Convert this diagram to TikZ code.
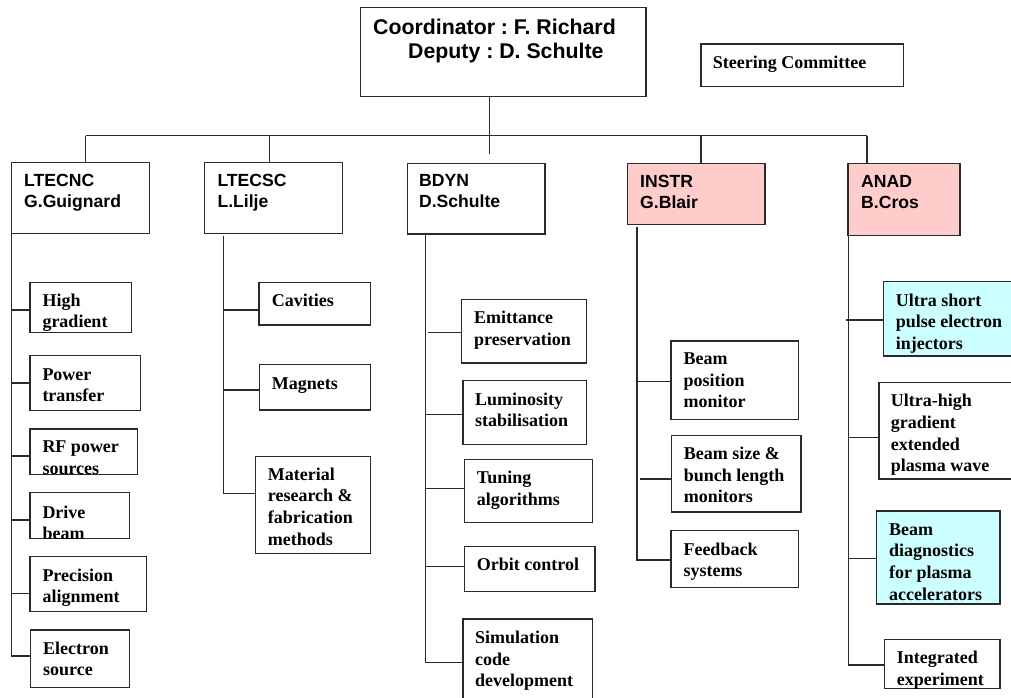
\documentclass[tikz,border=0pt]{standalone}
\usepackage{fontspec}
\setmainfont{Liberation Serif}
\setsansfont{Liberation Sans}
\frenchspacing
\definecolor{pinkfill}{HTML}{FFCCCC}
\definecolor{cyanfill}{HTML}{CCFFFF}
\definecolor{linecol}{HTML}{2A2A2A}
\newcommand\mkbox[6][]{\node[box,#1,minimum width={(#5-#3)*1pt},minimum height={(#6-#4)*1pt}] (#2) at (#3,#4) {};}
\tikzset{
  box/.style={draw=linecol, line width=1.1pt, anchor=north west, inner sep=0pt, outer sep=0pt},
  conn/.style={draw=linecol, line width=1.1pt},
  item/.style={anchor=base west, inner sep=0pt, align=left, font=\bfseries\fontsize{18}{21.7}\selectfont},
  head/.style={anchor=base west, inner sep=0pt, align=left, font=\sffamily\bfseries\fontsize{17.6}{21.5}\selectfont},
  toptext/.style={anchor=base west, inner sep=0pt, font=\sffamily\bfseries\fontsize{21.3}{24}\selectfont},
}
\begin{document}
\begin{tikzpicture}[x=1pt,y=-1pt]
\useasboundingbox (0,0) rectangle (1011,698);
\clip (0,0) rectangle (1011,698);
\fill[white] (0,0) rectangle (1011,698);

% top
\mkbox{coord}{360.7}{7.3}{646}{96.7}
\node[toptext] (tcoord1) at (373,34.3) {Coordinator : F. Richard};
\node[toptext] (tcoord2) at (408,58.3) {Deputy : D. Schulte};
\mkbox{steer}{701}{44}{903.3}{86.3}
\node[item] (tsteer) at (712.7,68.3) {Steering Committee};

% heads (anchor = baseline of last line)
\mkbox{ltecnc}{11.7}{162.7}{149.3}{233.3}
\mkbox{ltecsc}{204.3}{162.7}{342.3}{233.3}
\mkbox{bdyn}{407.2}{163.3}{545}{234}
\mkbox[fill=pinkfill]{instr}{627.7}{163.3}{765}{224.3}
\mkbox[fill=pinkfill]{anad}{848}{163.3}{960}{235.7}
\node[head] (tltecnc) at (24,207.8) {LTECNC\\G.Guignard};
\node[head] (tltecsc) at (217.3,207.8) {LTECSC\\L.Lilje};
\node[head] (tbdyn) at (418.9,207.8) {BDYN\\D.Schulte};
\node[head] (tinstr) at (640,208.8) {INSTR\\G.Blair};
\node[head] (tanad) at (861,208.8) {ANAD\\B.Cros};

% bus
\coordinate (busL) at (85.7,135.7);
\coordinate (busR) at (867,135.7);
\draw[conn] (busL) -- (busR);
\draw[conn] (busL) -- (busL |- ltecnc.north);
\draw[conn] ([xshift=-4pt]ltecsc.north) -- ++(0,-27);
\draw[conn] ([xshift=4.65pt]instr.north) -- ++(0,-27.6);
\draw[conn] (busR) -- (busR |- anad.north);
\draw[conn] ([xshift=-13.65pt]coord.south) -- ++(0,57.3);

% LTECNC column
\mkbox{hg}{30}{282.3}{131.3}{332.7}
\mkbox{pt}{30}{355.7}{140.3}{410.3}
\mkbox{rf}{30}{429}{137.3}{474.3}
\mkbox{db}{30}{492.7}{129.7}{538.3}
\mkbox{pa}{30}{556.7}{146.7}{611.7}
\mkbox{es}{30.7}{630}{129.3}{687.3}
\node[item] (thg) at (42.3,327.7) {High\\gradient};
\node[item] (tpt) at (42.3,401.7) {Power\\transfer};
\node[item] (trf) at (42.3,474.4) {RF power\\sources};
\begin{scope}
\clip (db.north west) rectangle (db.south east);
\node[item] (tdb) at (42.3,539.8) {Drive\\beam};
\end{scope}
\node[item] (tpa) at (42.3,602.7) {Precision\\alignment};
\node[item] (tes) at (43,675.7) {Electron\\source};
\draw[conn] (ltecnc.south west) |- ([yshift=2.65pt]es.west);
\draw[conn] ([yshift=-2.5pt]hg.west) -- ++(-18.3,0);
\draw[conn] (pt.west) -- ++(-18.3,0);
\draw[conn] ([yshift=-4.35pt]rf.west) -- ++(-18.3,0);
\draw[conn] ([yshift=-4.5pt]db.west) -- ++(-18.3,0);
\draw[conn] ([yshift=-9.1pt]pa.west) -- ++(-18.3,0);

% LTECSC column
\mkbox{cav}{259}{282.3}{370.3}{325}
\mkbox{mag}{259.3}{364.7}{370.3}{410}
\mkbox{mat}{255.7}{456.3}{370.3}{553.3}
\node[item] (tcav) at (271.7,306) {Cavities};
\node[item] (tmag) at (271.7,389) {Magnets};
\node[item] (tmat) at (267.7,545.1) {Material\\research \&\\fabrication\\methods};
\draw[conn] ([xshift=19pt,yshift=-2.7pt]ltecsc.south west) |- ([yshift=11.5pt]mat.west);
\draw[conn] ([yshift=-6.35pt]cav.west) -- ++(-35.7,0);
\draw[conn] ([yshift=-2.65pt]mag.west) -- ++(-36,0);

% BDYN column
\mkbox{emit}{461.7}{299.3}{586.7}{363}
\mkbox{lum}{463}{380.7}{586.3}{444.3}
\mkbox{tun}{464.3}{459.3}{592.3}{522.7}
\mkbox{orb}{464.3}{546.7}{595}{591.7}
\mkbox{sim}{463}{619}{592.3}{705}
\node[item] (temit) at (474,345) {Emittance\\preservation};
\node[item] (tlum) at (475,426.7) {Luminosity\\stabilisation};
\node[item] (ttun) at (476.7,505) {Tuning\\algorithms};
\node[item] (torb) at (476.7,570.7) {Orbit control};
\node[item] (tsim) at (475,686.7) {Simulation\\code\\development};
\draw[conn] ([xshift=18.1pt]bdyn.south west) |- ([yshift=-0.7pt]sim.west);
\draw[conn] ([yshift=-1.15pt]emit.west) -- ++(-33.4,0);
\draw[conn] ([yshift=-1.8pt]lum.west) -- ++(-37.7,0);
\draw[conn] ([yshift=2.7pt]tun.west) -- ++(-39,0);
\draw[conn] ([yshift=2.5pt]orb.west) -- ++(-39,0);

% INSTR column
\mkbox{bpm}{671}{341}{798.7}{419.3}
\mkbox{bsz}{671.7}{435.7}{801}{512}
\mkbox{fb}{671}{530.7}{798.7}{587.7}
\node[item] (tbpm) at (683.3,407.7) {Beam\\position\\monitor};
\node[item] (tbsz) at (683.7,502.7) {Beam size \&\\bunch length\\monitors};
\node[item] (tfb) at (683.3,576.7) {Feedback\\systems};
\draw[conn] ([xshift=9.3pt,yshift=-2.7pt]instr.south west) |- ([yshift=-0.8pt]fb.west);
\draw[conn] ([yshift=-1.55pt]bpm.west) -- ++(-34,0);
\draw[conn] ([yshift=-5.15pt]bsz.west) -- ++(-31.7,0);

% ANAD column
\mkbox[fill=cyanfill]{usp}{883.3}{281.7}{1014}{356}
\mkbox{uhg}{879}{382.7}{1014}{479}
\mkbox[fill=cyanfill]{bdg}{876.7}{511}{1000}{604}
\mkbox{ie}{884.3}{639.3}{1000}{688.3}
\node[item] (tusp) at (895.7,349.4) {Ultra short\\pulse electron\\injectors};
\node[item] (tuhg) at (890.7,471.8) {Ultra-high\\gradient\\extended\\plasma wave};
\node[item] (tbdg) at (889,600.1) {Beam\\diagnostics\\for plasma\\accelerators};
\node[item] (tie) at (896.7,685) {Integrated\\experiment};
\draw[conn] ([xshift=0.3pt]anad.south west) |- ([yshift=-1.2pt]ie.west);
\draw[conn] ([yshift=-1.15pt]usp.west) -- ++(-37.6,0);
\draw[conn] ([yshift=-6.85pt]uhg.west) -- ++(-30.7,0);
\draw[conn] ([yshift=-0.8pt]bdg.west) -- ++(-28.4,0);
\end{tikzpicture}
\end{document}
